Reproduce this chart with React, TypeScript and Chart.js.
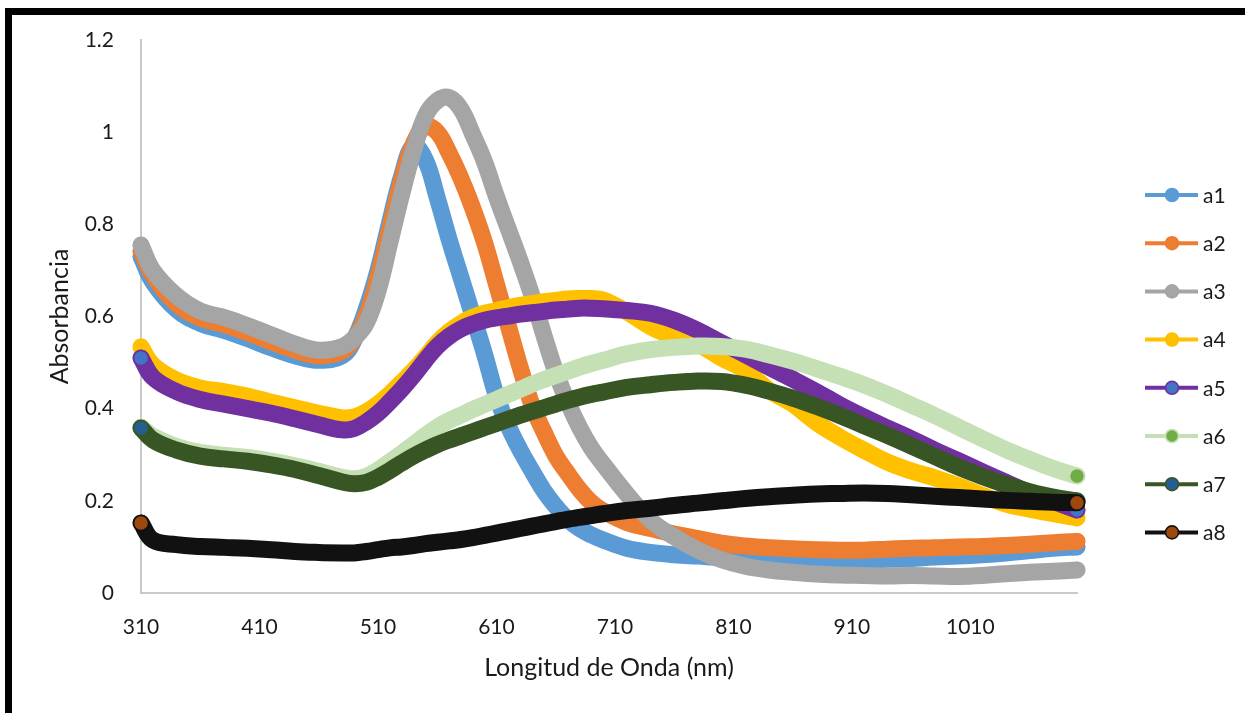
import React, { useEffect, useRef } from 'react';
import { Chart, registerables } from 'chart.js';

Chart.register(...registerables);

// ---------- Data ----------
const wavelengths = [
  310, 320, 340, 360, 380, 400, 420, 440, 460, 480,
  490, 500, 510, 520, 530, 540, 550, 560, 570, 580, 590, 600, 610, 620, 630, 640, 650, 660, 670, 680, 690, 700,
  720, 740, 760, 780, 800, 820, 840, 860, 880, 900, 920, 940, 960, 980, 1000, 1020, 1040, 1060, 1080, 1100,
];

const a1 = [
  0.73, 0.675, 0.615, 0.585, 0.57, 0.552, 0.532, 0.515, 0.505, 0.515,
  0.55, 0.615, 0.7, 0.805, 0.905, 0.97, 0.94, 0.858, 0.768, 0.685, 0.602, 0.518, 0.428, 0.362, 0.31, 0.265, 0.222, 0.188, 0.16, 0.14, 0.126, 0.115,
  0.097, 0.088, 0.083, 0.08, 0.077, 0.075, 0.073, 0.072, 0.071, 0.071, 0.072, 0.073, 0.075, 0.078, 0.08, 0.083, 0.087, 0.092, 0.097, 0.1,
];
const a2 = [
  0.742, 0.69, 0.628, 0.597, 0.583, 0.565, 0.545, 0.527, 0.515, 0.525,
  0.552, 0.6, 0.685, 0.79, 0.895, 0.975, 1.012, 1.0, 0.955, 0.9, 0.835, 0.76, 0.67, 0.58, 0.49, 0.408, 0.35, 0.298, 0.26, 0.225, 0.197, 0.178,
  0.153, 0.14, 0.128, 0.118, 0.108, 0.102, 0.098, 0.096, 0.094, 0.093, 0.093, 0.095, 0.097, 0.098, 0.1, 0.101, 0.103, 0.106, 0.109, 0.112,
];
const a3 = [
  0.755, 0.7, 0.645, 0.612, 0.598, 0.58, 0.56, 0.54, 0.527, 0.535,
  0.553, 0.585, 0.655, 0.76, 0.865, 0.96, 1.035, 1.068, 1.075, 1.05, 0.995, 0.935, 0.86, 0.79, 0.72, 0.645, 0.56, 0.48, 0.415, 0.36, 0.315, 0.28,
  0.215, 0.158, 0.122, 0.093, 0.072, 0.058, 0.05, 0.045, 0.041, 0.039, 0.038, 0.037, 0.038, 0.037, 0.036, 0.038, 0.042, 0.045, 0.047, 0.05,
];
const a4 = [
  0.534, 0.495, 0.462, 0.445, 0.437, 0.427, 0.414, 0.402, 0.39, 0.38,
  0.382, 0.393, 0.41, 0.432, 0.457, 0.483, 0.512, 0.543, 0.567, 0.585, 0.598, 0.607, 0.613, 0.619, 0.624, 0.628, 0.632, 0.635, 0.638, 0.639, 0.639, 0.636,
  0.61, 0.578, 0.556, 0.54, 0.51, 0.483, 0.44, 0.41, 0.37, 0.338, 0.31, 0.284, 0.265, 0.25, 0.232, 0.212, 0.193, 0.182, 0.172, 0.163,
];
const a5 = [
  0.51, 0.468, 0.437, 0.42, 0.41, 0.4, 0.39, 0.378, 0.365, 0.354,
  0.357, 0.371, 0.39, 0.415, 0.442, 0.472, 0.505, 0.535, 0.557, 0.573, 0.584, 0.592, 0.597, 0.601, 0.605, 0.608, 0.611, 0.614, 0.616, 0.618, 0.618, 0.617,
  0.613, 0.607, 0.592, 0.57, 0.543, 0.517, 0.49, 0.464, 0.437, 0.408, 0.382, 0.358, 0.335, 0.31, 0.287, 0.263, 0.24, 0.218, 0.199, 0.18,
];
const a6 = [
  0.36, 0.34, 0.318, 0.305, 0.299, 0.294, 0.286, 0.276, 0.264, 0.251,
  0.248, 0.253, 0.267, 0.285, 0.303, 0.322, 0.342, 0.36, 0.374, 0.386, 0.398, 0.409, 0.42, 0.431, 0.442, 0.453, 0.463, 0.472, 0.481, 0.49, 0.498, 0.505,
  0.519, 0.528, 0.533, 0.536, 0.535, 0.529, 0.517, 0.503, 0.487, 0.47, 0.452, 0.431, 0.408, 0.385, 0.36, 0.335, 0.311, 0.29, 0.27, 0.254,
];
const a7 = [
  0.358, 0.332, 0.31, 0.297, 0.291, 0.286, 0.278, 0.268, 0.255, 0.241,
  0.237, 0.24, 0.251, 0.266, 0.282, 0.297, 0.31, 0.322, 0.332, 0.341, 0.35, 0.359, 0.368, 0.377, 0.386, 0.394, 0.402, 0.41, 0.418, 0.425, 0.431, 0.436,
  0.446, 0.452, 0.457, 0.46, 0.459, 0.451, 0.438, 0.423, 0.405, 0.385, 0.363, 0.342, 0.319, 0.296, 0.273, 0.253, 0.235, 0.22, 0.208, 0.2,
];
const a8 = [
  0.152, 0.115, 0.105, 0.101, 0.099, 0.097, 0.094, 0.09, 0.088, 0.087,
  0.087, 0.09, 0.094, 0.098, 0.1, 0.103, 0.107, 0.11, 0.113, 0.116, 0.12, 0.125, 0.13, 0.135, 0.14, 0.145, 0.15, 0.155, 0.16, 0.164, 0.168, 0.172,
  0.179, 0.184, 0.19, 0.195, 0.2, 0.205, 0.209, 0.212, 0.215, 0.216, 0.217, 0.216, 0.213, 0.21, 0.207, 0.204, 0.201, 0.199, 0.197, 0.196,
];

const seriesNames = ['a1', 'a2', 'a3', 'a4', 'a5', 'a6', 'a7', 'a8'];
const xTicks = [310, 410, 510, 610, 710, 810, 910, 1010];
const yTicks = [0, 0.2, 0.4, 0.6, 0.8, 1, 1.2];
const xTitle = 'Longitud de Onda (nm)';
const yTitle = 'Absorbancia';

// ---------- Styles ----------
const lineColors = ['#5B9BD5', '#ED7D31', '#A5A5A5', '#FFC000', '#7030A0', '#C5E0B4', '#375623', '#111111'];
const markerFill = ['#5B9BD5', '#ED7D31', '#A5A5A5', '#FFC000', '#4472C4', '#70AD47', '#255E91', '#9E480E'];
const markerBorder = ['#5B9BD5', '#ED7D31', '#A5A5A5', '#FFC000', '#7030A0', '#C5E0B4', '#375623', '#111111'];

const W = 1245;
const H = 713;
const FONT = 'Lato, "Open Sans", sans-serif';
const TEXT = '#1a1a1a';

const legendPlugin = {
  id: 'excelLegend',
  afterDraw(chart: any) {
    const ctx = chart.ctx as CanvasRenderingContext2D;
    ctx.save();
    const x0 = 1145;
    const x1 = 1198;
    const mx = 1172;
    const y0 = 195;
    const step = 48.2;
    seriesNames.forEach((name, i) => {
      const y = y0 + i * step;
      ctx.strokeStyle = lineColors[i];
      ctx.lineWidth = 4;
      ctx.lineCap = 'butt';
      ctx.beginPath();
      ctx.moveTo(x0, y);
      ctx.lineTo(x1, y);
      ctx.stroke();
      ctx.beginPath();
      ctx.arc(mx, y, 6.5, 0, Math.PI * 2);
      ctx.fillStyle = markerFill[i];
      ctx.fill();
      ctx.lineWidth = 1.6;
      ctx.strokeStyle = markerBorder[i];
      ctx.stroke();
      ctx.fillStyle = TEXT;
      ctx.font = `21px ${FONT}`;
      ctx.textBaseline = 'middle';
      ctx.textAlign = 'left';
      ctx.fillText(name, 1203, y + 1);
    });
    ctx.restore();
  },
};

export default function App() {
  const ref = useRef<HTMLCanvasElement>(null);

  useEffect(() => {
    if (!ref.current) return;
    const series = [a1, a2, a3, a4, a5, a6, a7, a8];
    const datasets = series.map((vals, i) => ({
      label: seriesNames[i],
      data: vals.map((v, j) => ({ x: wavelengths[j], y: v })),
      borderColor: lineColors[i],
      backgroundColor: markerFill[i],
      borderWidth: 17,
      borderCapStyle: 'round' as const,
      borderJoinStyle: 'round' as const,
      tension: 0.4,
      pointRadius: (c: any) => (c.dataIndex === 0 || c.dataIndex === vals.length - 1 ? 7.5 : 0),
      pointHoverRadius: 0,
      pointBorderWidth: 1.6,
      pointBackgroundColor: markerFill[i],
      pointBorderColor: markerBorder[i],
      order: series.length - i,
      clip: false as const,
      fill: false,
    }));

    const chart = new Chart(ref.current, {
      type: 'line',
      data: { datasets },
      plugins: [legendPlugin],
      options: {
        animation: false,
        responsive: false,
        events: [],
        layout: { padding: { top: 40, right: W - 1077, bottom: 0, left: 0 } },
        plugins: {
          legend: { display: false },
          tooltip: { enabled: false },
        },
        scales: {
          x: {
            type: 'linear',
            min: 310,
            max: 1100,
            afterBuildTicks: (axis: any) => {
              axis.ticks = xTicks.map((v) => ({ value: v }));
            },
            afterFit: (scale: any) => {
              scale.height = H - 593;
            },
            grid: { display: false, drawTicks: false },
            border: { display: true, color: '#C9C9C9', width: 2 },
            ticks: {
              padding: 22,
              color: TEXT,
              font: { family: FONT, size: 21 },
              maxRotation: 0,
              autoSkip: false,
              callback: (v: any) => String(v),
            },
            title: {
              display: true,
              text: xTitle,
              color: TEXT,
              font: { family: FONT, size: 25 },
              padding: { top: 0, bottom: 30 },
            },
          },
          y: {
            type: 'linear',
            min: 0,
            max: 1.2,
            afterBuildTicks: (axis: any) => {
              axis.ticks = yTicks.map((v) => ({ value: v }));
            },
            afterFit: (scale: any) => {
              scale.width = 141;
            },
            grid: { display: false, drawTicks: false },
            border: { display: true, color: '#C9C9C9', width: 2 },
            ticks: {
              padding: 27,
              color: TEXT,
              font: { family: FONT, size: 21 },
              callback: (v: any) => String(Number(Number(v).toFixed(1))),
            },
            title: {
              display: true,
              text: yTitle,
              color: TEXT,
              font: { family: FONT, size: 25 },
              padding: { top: 45, bottom: 0 },
            },
          },
        },
      },
    } as any);

    return () => chart.destroy();
  }, []);

  return (
    <div style={{ position: 'fixed', left: 0, top: 0, width: W, height: H, background: '#fff' }}>
      <canvas ref={ref} width={W} height={H} style={{ position: 'absolute', left: 0, top: 0 }} />
      <div
        style={{
          position: 'absolute',
          left: 5,
          top: 8,
          right: 0,
          bottom: 0,
          borderTop: '7px solid #000',
          borderLeft: '7px solid #000',
          pointerEvents: 'none',
        }}
      />
    </div>
  );
}
